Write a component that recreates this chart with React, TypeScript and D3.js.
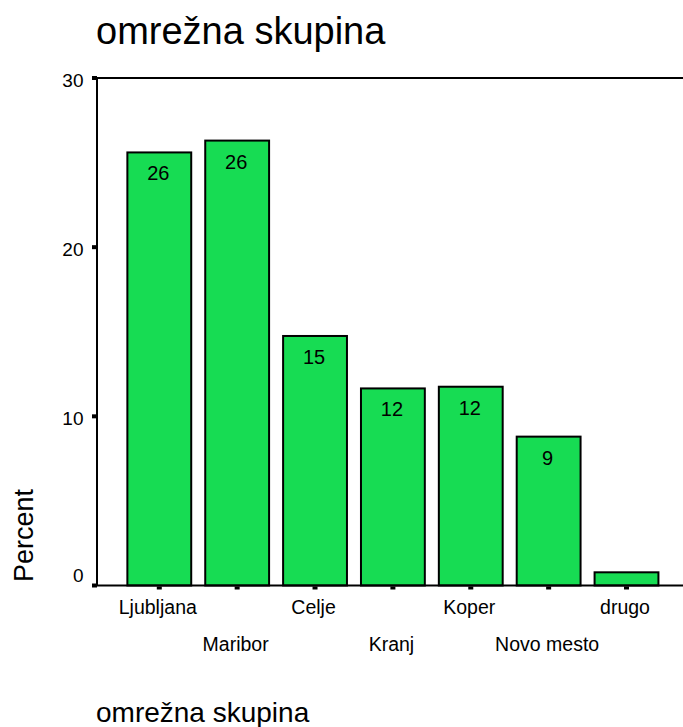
import React from "react";
import * as d3 from "d3";

const categories = ["Ljubljana", "Maribor", "Celje", "Kranj", "Koper", "Novo mesto", "drugo"];
const percents = [25.6, 26.3, 14.75, 11.65, 11.75, 8.8, 0.78];
const yTicks = [0, 10, 20, 30];
const chartTitle = "omrežna skupina";
const xTitle = "omrežna skupina";
const yTitle = "Percent";

const W = 683;
const H = 727;
const FONT = "Arial, 'Liberation Sans', Helvetica, sans-serif";

export default function App() {
  const left = 97;
  const top = 78;
  const bottom = 585.5;
  const x = d3
    .scaleBand<string>()
    .domain(categories)
    .range([left, 688.8])
    .paddingInner(0.18)
    .paddingOuter(0.39);
  const y = d3.scaleLinear().domain([0, 30]).range([bottom, top]);

  return (
    <svg
      width={W}
      height={H}
      style={{ position: "absolute", left: 0, top: 0, background: "#fff" }}
      fontFamily={FONT}
    >
      <text x={96} y={44} fontSize={38} fill="#000">
        {chartTitle}
      </text>

      {/* bars */}
      {categories.map((c, i) => (
        <g key={c}>
          <rect
            x={x(c)}
            y={y(percents[i])}
            width={x.bandwidth()}
            height={bottom - y(percents[i])}
            fill="#17dc53"
            stroke="#000"
            strokeWidth={2}
          />
          {percents[i] >= 5 && (
            <text
              x={(x(c) as number) + x.bandwidth() / 2 - 1}
              y={y(percents[i]) + 28}
              fontSize={20}
              textAnchor="middle"
              fill="#000"
            >
              {Math.round(percents[i])}
            </text>
          )}
        </g>
      ))}

      {/* frame */}
      <line x1={left} x2={W} y1={top} y2={top} stroke="#000" strokeWidth={2} />
      <line x1={left} x2={W} y1={bottom} y2={bottom} stroke="#000" strokeWidth={2} />
      <line x1={left} x2={left} y1={top} y2={bottom} stroke="#000" strokeWidth={2} />

      {/* y ticks */}
      {yTicks.map((t) => (
        <g key={t}>
          <rect x={left - 5} y={y(t) - 2} width={5} height={4} fill="#000" />
          <text
            x={83.5}
            y={y(t) + (t === 0 ? -4 : 8.7)}
            fontSize={19}
            textAnchor="end"
            fill="#000"
          >
            {t}
          </text>
        </g>
      ))}

      {/* x ticks and labels */}
      {categories.map((c, i) => {
        const cx = (x(c) as number) + x.bandwidth() / 2;
        return (
          <g key={c}>
            <rect x={cx - 2.5} y={bottom + 1} width={5} height={3} fill="#000" />
            <text
              x={cx - 1.5}
              y={i % 2 === 0 ? 614 : 650.5}
              fontSize={19.5}
              textAnchor="middle"
              fill="#000"
            >
              {c}
            </text>
          </g>
        );
      })}

      <text
        transform={`translate(33,535.5) rotate(-90)`}
        fontSize={27}
        textAnchor="middle"
        fill="#000"
      >
        {yTitle}
      </text>

      <text x={96} y={722} fontSize={28} fill="#000">
        {xTitle}
      </text>
    </svg>
  );
}
